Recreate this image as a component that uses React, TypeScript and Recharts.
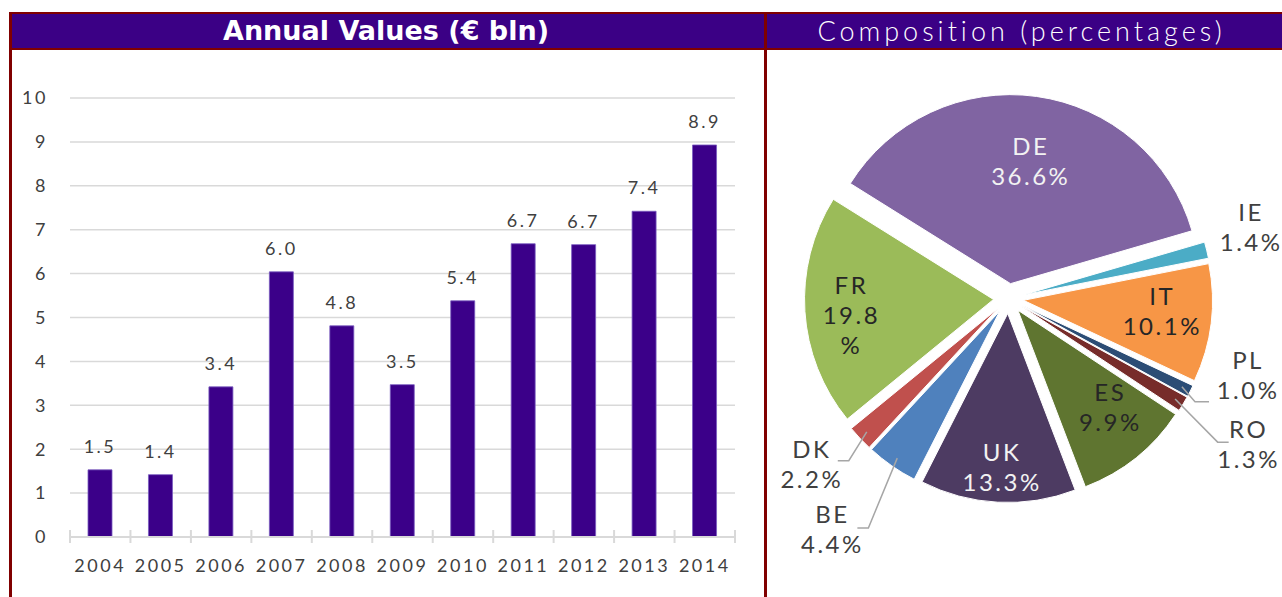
import { Bar, BarChart, CartesianGrid, Cell, LabelList, Pie, PieChart, Sector, XAxis, YAxis } from 'recharts';

const years = ['2004', '2005', '2006', '2007', '2008', '2009', '2010', '2011', '2012', '2013', '2014'];
const values = [1.53, 1.42, 3.42, 6.04, 4.81, 3.47, 5.38, 6.68, 6.66, 7.42, 8.93];
const yTicks = [0, 1, 2, 3, 4, 5, 6, 7, 8, 9, 10];

const countries = ['DE', 'IE', 'IT', 'PL', 'RO', 'ES', 'UK', 'BE', 'DK', 'FR'];
const shares = [36.6, 1.4, 10.1, 1.0, 1.3, 9.9, 13.3, 4.4, 2.2, 19.8];
const sliceColors = ['#8064a2', '#4bacc6', '#f79646', '#2c4d75', '#772c2a', '#5f7530', '#4d3b62', '#4f81bd', '#c0504d', '#9bbb59'];

// label placement per slice: r = radius factor, shift = degrees off the mid angle
// leader = [end dx, end dy, elbow dx, elbow dy] relative to the label centre
const pieLabels: any[] = [
  { inside: true, r: 0.63, shift: -1.9, color: '#f2f2f2' },
  { inside: false, r: 1.33, shift: 1.4, color: '#404040' },
  { inside: true, r: 0.74, shift: 0.3, color: '#262626' },
  { inside: false, r: 1.34, shift: 8, color: '#404040', leader: [-39, 21, -53, 21] },
  { inside: false, r: 1.5, shift: -1, color: '#404040', leader: [-20, -7, -31, -7] },
  { inside: true, r: 0.73, shift: 3.3, color: '#262626' },
  { inside: true, r: 0.84, shift: 1, color: '#f2f2f2' },
  { inside: false, r: 1.56, shift: -1.8, color: '#404040', leader: [25, -7, 36, -7] },
  { inside: false, r: 1.38, shift: -2.2, color: '#404040', leader: [26, -9, 37, -9] },
  { inside: true, r: 0.76, shift: 4.75, color: '#262626', wrap: true },
];

const FONT = 'Lato, "Open Sans", sans-serif';
const PURPLE = '#3b0085';
const FRAME = '#800000';
const PLOT_LEFT = 70;
const PLOT_RIGHT = 735;
const BAND = (PLOT_RIGHT - PLOT_LEFT) / years.length;
const EXPLODE = 15;
const LINE = 30;
const RAD = Math.PI / 180;

const barData = years.map((year, i) => ({ year, value: values[i] }));
const pieData = countries.map((name, i) => ({ name, value: shares[i] }));

function YearTick(props: any) {
  const { x, y, payload, index } = props;
  const half = BAND / 2;
  return (
    <g>
      <line x1={x - half} x2={x - half} y1={y - 7} y2={y + 6} stroke="#d9d9d9" strokeWidth={2} />
      {index === years.length - 1 && (
        <line x1={x + half} x2={x + half} y1={y - 7} y2={y + 6} stroke="#d9d9d9" strokeWidth={2} />
      )}
      <text x={x} y={y + 35} textAnchor="middle" fill="#404040" fontSize={18} letterSpacing={2.5} fontFamily={FONT}>
        {payload.value}
      </text>
    </g>
  );
}

function ExplodedSector(props: any) {
  const { cx, cy, midAngle } = props;
  return (
    <Sector
      {...props}
      cx={cx + EXPLODE * Math.cos(-midAngle * RAD)}
      cy={cy + EXPLODE * Math.sin(-midAngle * RAD)}
    />
  );
}

function PieLabel(props: any) {
  const { cx, cy, midAngle, outerRadius, index, name, value } = props;
  const st = pieLabels[index];
  const ex = cx + EXPLODE * Math.cos(-midAngle * RAD);
  const ey = cy + EXPLODE * Math.sin(-midAngle * RAD);
  const ox = st.inside ? ex : cx;
  const oy = st.inside ? ey : cy;
  const ang = (midAngle + st.shift) * RAD;
  const lx = ox + st.r * outerRadius * Math.cos(ang);
  const ly = oy - st.r * outerRadius * Math.sin(ang);
  const pct = Number(value).toFixed(1);
  const lines = st.wrap ? [name, pct, '%'] : [name, pct + '%'];
  const top = ly - ((lines.length - 1) * LINE) / 2 - 6;
  let leader = null;
  if (st.leader) {
    const px = ex + 0.95 * outerRadius * Math.cos(-midAngle * RAD);
    const py = ey + 0.95 * outerRadius * Math.sin(-midAngle * RAD);
    const [ax, ay, bx, by] = st.leader;
    leader = (
      <polyline
        points={`${lx + ax},${ly + ay} ${lx + bx},${ly + by} ${px},${py}`}
        fill="none"
        stroke="#a6a6a6"
        strokeWidth={1.5}
      />
    );
  }
  return (
    <g>
      {leader}
      {lines.map((t, i) => (
        <text
          key={i}
          x={lx}
          y={top + i * LINE}
          textAnchor="middle"
          dominantBaseline="central"
          fill={st.color}
          fontSize={24}
          letterSpacing={2.5}
          fontFamily={FONT}
        >
          {t}
        </text>
      ))}
    </g>
  );
}

export default function App() {
  return (
    <div style={{ position: 'absolute', left: 0, top: 0, width: 1282, height: 597, overflow: 'hidden', background: '#fff' }}>
      <div style={{ position: 'absolute', left: 9, top: 12, width: 1273, height: 38, background: FRAME }} />
      <div style={{ position: 'absolute', left: 9, top: 12, width: 3, height: 585, background: FRAME }} />
      <div style={{ position: 'absolute', left: 764, top: 12, width: 3, height: 585, background: FRAME }} />
      <div
        style={{
          position: 'absolute', left: 12, top: 14, width: 752, height: 34, background: PURPLE,
          color: '#fff', fontFamily: '"DejaVu Sans", Verdana, sans-serif', fontWeight: 'bold', fontSize: 27,
          lineHeight: '34px', textAlign: 'center',
        }}
      >
        <span style={{ position: 'relative', left: -2 }}>Annual Values (€ bln)</span>
      </div>
      <div
        style={{
          position: 'absolute', left: 767, top: 14, width: 515, height: 34, background: PURPLE,
          color: '#fff', fontFamily: FONT, fontWeight: 300, fontSize: 27, letterSpacing: 4,
          lineHeight: '34px', textAlign: 'center',
        }}
      >
        <span style={{ position: 'relative', left: -3 }}>Composition (percentages)</span>
      </div>

      <div style={{ position: 'absolute', left: 0, top: 0 }}>
        <BarChart width={760} height={597} data={barData} margin={{ top: 98, right: 760 - PLOT_RIGHT, left: 0, bottom: 30 }}>
          <CartesianGrid vertical={false} stroke="#d9d9d9" strokeWidth={1.5} />
          <YAxis
            width={PLOT_LEFT}
            domain={[0, 10]}
            ticks={yTicks}
            axisLine={false}
            tickLine={false}
            tickSize={0}
            tickMargin={22}
            tick={{ fill: '#404040', fontSize: 18, fontFamily: FONT, letterSpacing: 2.5 }}
          />
          <XAxis
            dataKey="year"
            height={30}
            axisLine={{ stroke: '#d9d9d9', strokeWidth: 2 }}
            tickLine={false}
            tickSize={0}
            tickMargin={0}
            interval={0}
            tick={<YearTick />}
          />
          <Bar dataKey="value" fill="#3b0089" stroke="#7a5cc0" strokeWidth={0.8} barSize={24} isAnimationActive={false}>
            <LabelList
              dataKey="value"
              position="top"
              offset={17}
              formatter={(v: any) => Number(v).toFixed(1)}
              fill="#404040"
              fontSize={18}
              fontFamily={FONT}
              letterSpacing={2.5}
            />
          </Bar>
        </BarChart>
      </div>

      <div style={{ position: 'absolute', left: 767, top: 50 }}>
        <PieChart width={515} height={547}>
          <Pie
            data={pieData}
            dataKey="value"
            nameKey="name"
            cx={236.5}
            cy={243.5}
            outerRadius={189}
            startAngle={148}
            endAngle={-212}
            stroke="#fff"
            strokeWidth={1}
            shape={<ExplodedSector />}
            label={PieLabel}
            labelLine={false}
            isAnimationActive={false}
          >
            {pieData.map((d, i) => (
              <Cell key={d.name} fill={sliceColors[i]} />
            ))}
          </Pie>
        </PieChart>
      </div>
    </div>
  );
}
